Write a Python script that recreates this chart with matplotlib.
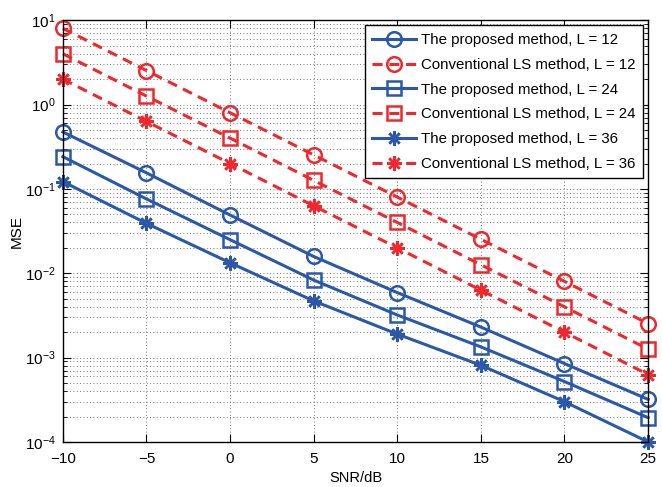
import numpy as np
import matplotlib
matplotlib.use("Agg")
import matplotlib.pyplot as plt
from matplotlib.ticker import LogLocator, NullFormatter

plt.rcParams['font.family'] = ['Liberation Sans', 'DejaVu Sans']

snr = [-10, -5, 0, 5, 10, 15, 20, 25]

prop_12 = [0.473, 0.155, 0.049, 0.0158, 0.0059, 0.0023, 0.00085, 0.00032]
conv_12 = [8.0, 2.53, 0.8, 0.253, 0.08, 0.0253, 0.008, 0.00253]
prop_24 = [0.241, 0.076, 0.025, 0.0083, 0.0032, 0.00134, 0.00052, 0.000194]
conv_24 = [4.0, 1.26, 0.4, 0.126, 0.04, 0.0126, 0.004, 0.00126]
prop_36 = [0.122, 0.039, 0.0133, 0.0047, 0.0019, 0.00081, 0.00030, 0.0001]
conv_36 = [2.0, 0.63, 0.2, 0.063, 0.02, 0.0063, 0.002, 0.00063]

labels = ["The proposed method, L = 12", "Conventional LS method, L = 12",
          "The proposed method, L = 24", "Conventional LS method, L = 24",
          "The proposed method, L = 36", "Conventional LS method, L = 36"]

blue = '#2B58A8'
red = '#F0282D'
star = (8, 2, 0)

fig = plt.figure(figsize=(6.62, 4.87), dpi=100)
ax = fig.add_axes([0.095, 0.0925, 0.884, 0.866])

series = [(prop_12, blue, '-', 'o'), (conv_12, red, '--', 'o'),
          (prop_24, blue, '-', 's'), (conv_24, red, '--', 's'),
          (prop_36, blue, '-', star), (conv_36, red, '--', star)]
for (vals, c, ls, m), lab in zip(series, labels):
    line, = ax.semilogy(snr, vals, color=c, linestyle=ls, marker=m, lw=2.2,
                        markersize=10.5, markeredgewidth=1.8, markerfacecolor='none',
                        markeredgecolor=c, label=lab, clip_on=False)
    if ls == '--':
        line.set_dashes((3.3, 2.2))

ax.set_xlim(-10, 25)
ax.set_ylim(1e-4, 1e1)
ax.set_xticks(snr)
ax.yaxis.set_major_locator(LogLocator(base=10, numticks=10))
ax.yaxis.set_minor_locator(LogLocator(base=10, subs=np.arange(2, 10), numticks=50))
ax.yaxis.set_minor_formatter(NullFormatter())

ax.grid(True, which='major', axis='x', color='0.3', linestyle=(0, (1, 3)), lw=0.6)
ax.grid(True, which='both', axis='y', color='0.3', linestyle=(0, (1, 3)), lw=0.6)
ax.tick_params(which='both', direction='in', top=True, right=True, labelsize=11)
ax.tick_params(which='major', length=6)
ax.tick_params(which='minor', length=3)
ax.tick_params(axis='x', pad=7)
ax.tick_params(axis='y', pad=5)
for s in ax.spines.values():
    s.set_linewidth(1.0)

ax.set_xlabel("SNR/dB", fontsize=10.5, labelpad=4)
ax.set_ylabel("MSE", fontsize=11)
ax.yaxis.set_label_coords(-0.067, 0.5)

leg = ax.legend(loc='upper right', fontsize=10.8, frameon=True, fancybox=False,
                edgecolor='black', framealpha=1, handlelength=2.9,
                labelspacing=0.72, borderpad=0.5, handletextpad=0.35,
                borderaxespad=0.35)
leg.get_frame().set_linewidth(1.0)

fig.savefig("out.png", dpi=100)
